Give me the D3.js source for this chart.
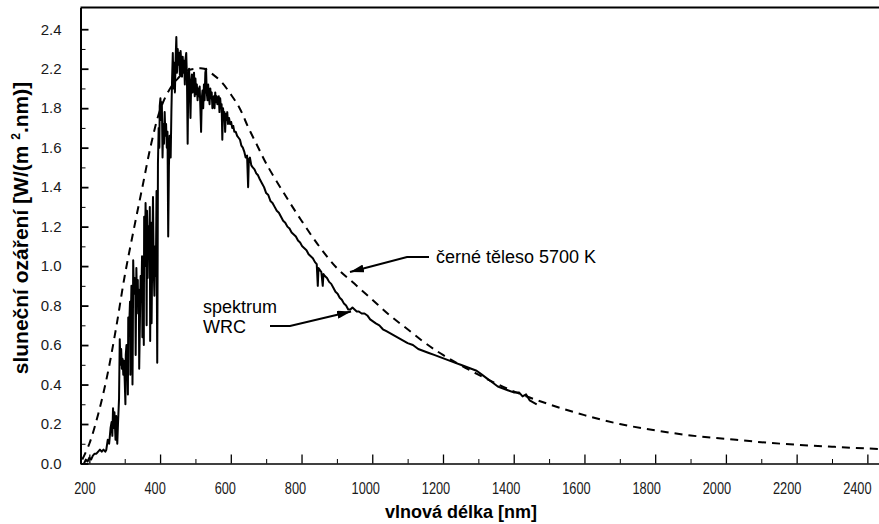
<!DOCTYPE html>
<html>
<head>
<meta charset="utf-8">
<script src="https://cdn.jsdelivr.net/npm/d3@7"></script>
<style>
  body { margin: 0; background: #fff; }
  svg { display: block; }
  text { font-family: "Liberation Sans", Arial, Helvetica, sans-serif; }
</style>
</head>
<body>
<svg id="chart" width="879" height="524"></svg>
<script>
// Measured solar spectrum (WRC) — wavelength [nm] and irradiance [W/(m2.nm)]
const wrcWave = [
  185,190,195,200,205,210,215,220,225,230,235,240,245,248,252,256,260,263,265,267,
  269,271,274,276,279,281,284,286,288,290,292,294,296,298,300,302,303,305,307,309,310,312,
  315,316,317,319,321,322,323,324,326,328,330,331,333,335,337,338,340,341,343,345,347,349,350,352,
  354,355,357,359,361,362,363,365,367,369,371,372,373,375,376,378,380,382,384,386,388,390,391,
  392,393,394,396,398,399,401,403,405,407,409,411,413,415,417,419,421,423,425,427,
  430,432,434,436,438,440,442,444,446,448,450,452,454,456,458,460,462,464,466,468,
  470,472,474,476,478,480,482,484,486,488,490,492,494,496,498,500,502,504,506,508,
  510,512,514,516,518,520,522,524,526,528,530,532,534,536,538,540,542,544,546,548,
  550,552,554,556,558,560,562,564,566,568,570,572,574,576,578,580,582,584,586,588,
  590,592,595,598,601,604,607,610,614,618,622,626,630,634,638,642,646,649,651,654,
  658,662,667,672,677,682,688,694,700,706,712,718,724,730,736,742,748,754,760,766,
  772,778,784,790,796,802,808,814,820,826,832,838,843,846,848,852,856,860,862,866,
  872,878,884,890,896,902,908,914,920,926,932,938,944,950,956,962,970,978,986,994,
  1002,1010,1020,1030,1040,1050,1060,1070,1080,1090,1100,1115,1130,1145,1160,1175,1190,1205,1220,1235,
  1250,1265,1280,1295,1310,1325,1340,1355,1370,1385,1400,1415,1425,1435,1445,1455,1465
];
const wrcIrr = [
  0.00,0.02,0.01,0.03,0.02,0.04,0.05,0.05,0.06,0.07,0.06,0.07,0.06,0.07,0.12,0.10,0.18,0.21,0.14,0.28,
  0.18,0.26,0.12,0.24,0.10,0.20,0.33,0.63,0.50,0.58,0.48,0.53,0.45,0.52,0.42,0.30,0.55,0.60,0.52,0.35,0.74,0.66,
  0.82,0.45,0.70,0.90,0.80,0.40,0.63,1.03,0.86,0.94,0.88,0.55,0.99,0.80,0.93,0.76,0.88,0.48,0.72,0.95,0.82,1.05,0.64,0.90,
  0.60,1.25,1.00,1.32,1.05,0.70,1.28,0.94,1.20,1.10,1.30,0.62,0.90,1.22,0.71,1.08,1.35,0.99,0.85,1.10,0.95,1.38,0.85,
  0.51,0.95,1.52,1.70,1.60,1.81,1.85,1.74,1.83,1.55,1.72,1.62,1.78,1.66,1.72,1.60,1.68,1.15,1.50,1.66,
  1.55,1.78,1.95,2.08,1.90,2.03,1.88,2.05,2.16,1.98,2.10,2.02,2.08,1.97,2.09,2.03,1.96,2.06,1.98,2.04,
  1.92,2.05,2.08,1.95,1.62,1.96,2.00,1.90,1.75,1.93,1.97,1.88,1.94,1.98,1.86,1.95,1.87,1.92,1.84,1.90,
  1.86,1.91,1.80,1.68,1.85,1.89,1.80,1.92,1.84,1.98,2.00,1.88,1.84,1.92,1.86,1.82,1.90,1.85,1.88,1.80,
  1.84,1.86,1.80,1.88,1.83,1.86,1.82,1.84,1.86,1.78,1.85,1.80,1.82,1.64,1.80,1.76,1.78,1.68,1.77,1.74,
  1.78,1.72,1.75,1.72,1.73,1.70,1.71,1.68,1.68,1.66,1.65,1.64,1.61,1.60,1.58,1.55,1.56,1.40,1.54,1.55,
  1.51,1.50,1.49,1.47,1.46,1.44,1.42,1.40,1.37,1.36,1.33,1.32,1.30,1.28,1.27,1.25,1.23,1.22,1.20,1.19,
  1.17,1.16,1.15,1.13,1.12,1.10,1.09,1.08,1.06,1.05,1.04,1.02,1.01,0.90,0.99,0.98,0.97,0.90,0.96,0.95,
  0.94,0.92,0.91,0.89,0.87,0.86,0.84,0.83,0.81,0.80,0.78,0.78,0.79,0.78,0.77,0.77,0.76,0.76,0.75,0.73,
  0.72,0.71,0.70,0.68,0.67,0.66,0.65,0.64,0.63,0.62,0.61,0.60,0.58,0.57,0.56,0.55,0.54,0.53,0.52,0.51,
  0.50,0.49,0.48,0.47,0.45,0.43,0.41,0.39,0.38,0.37,0.36,0.36,0.34,0.35,0.32,0.31,0.30
];

// Black body at 5700 K
const bbWave = [180,200,225,250,275,300,325,350,375,400,425,450,475,500,525,550,575,600,625,650,
  675,700,750,800,850,900,950,1000,1050,1100,1150,1200,1300,1400,1500,1600,1700,1800,1900,2000,
  2100,2200,2300,2400,2500];
const bbIrr = [0.02,0.10,0.25,0.44,0.68,0.95,1.18,1.40,1.62,1.79,1.89,1.95,1.99,2.00,2.00,1.97,1.93,1.87,1.80,1.70,
  1.61,1.52,1.37,1.23,1.10,0.99,0.91,0.83,0.75,0.68,0.61,0.55,0.45,0.365,0.30,0.245,0.20,0.168,0.142,0.125,
  0.108,0.095,0.085,0.076,0.068];

// Axis ticks
const xMinorTicks = d3.range(300, 2500, 200);
const xMajorTicks = [200,400,600,800,1000,1200,1400,1600,1800,2000,2200,2400];
const xTickLabels = ["200","400","600","800","1000","1200","1400","1600","1800","2000","2200","2400"];
const yMinorTicks = [0.1,0.3,0.5,0.7,0.9,1.1,1.3,1.5,1.7,1.9,2.1];
const yMajorTicks = [0,0.2,0.4,0.6,0.8,1.0,1.2,1.4,1.6,1.8,2.0,2.2];
const yTickLabels = ["0.0","0.2","0.4","0.6","0.8","1.0","1.2","1.4","1.6","1.8","2.2","2.4"];

const svg = d3.select("#chart");
const W = 879;

const x = d3.scaleLinear().domain([175, 2500]).range([80.5, 80.5 + 2325 * 0.35365]);
const y = d3.scaleLinear().domain([0, 2.31]).range([463.5, 7.5]);

// Frame top line
svg.append("line")
  .attr("x1", x(175)).attr("x2", W)
  .attr("y1", y(2.31)).attr("y2", y(2.31))
  .attr("stroke", "#000").attr("stroke-width", 2);

// X axis
const gxMinor = svg.append("g").attr("transform", `translate(0,${y(0)})`)
  .call(d3.axisBottom(x).tickValues(xMinorTicks).tickSize(-4.5).tickSizeOuter(0).tickFormat(""));
gxMinor.select(".domain").attr("stroke-width", 1.6);
const gx = svg.append("g").attr("transform", `translate(0,${y(0)})`)
  .call(d3.axisBottom(x).tickValues(xMajorTicks).tickSize(-9).tickSizeOuter(0).tickPadding(19)
    .tickFormat((d, i) => xTickLabels[i]));
gx.select(".domain").remove();
gx.selectAll(".tick line").attr("stroke-width", 1.3);
gx.selectAll(".tick text")
  .attr("font-size", 16).attr("fill", "#1a1a1a")
  .attr("font-family", '"Liberation Sans", Arial, sans-serif')
  .attr("transform", (d, i) => `translate(${-5 - i * 0.5},0) scale(0.8,1)`);

// Y axis
const gyMinor = svg.append("g").attr("transform", `translate(${x(175)},0)`)
  .call(d3.axisLeft(y).tickValues(yMinorTicks).tickSize(-5).tickSizeOuter(0).tickFormat(""));
gyMinor.select(".domain").attr("stroke-width", 2);
const gy = svg.append("g").attr("transform", `translate(${x(175)},0)`)
  .call(d3.axisLeft(y).tickValues(yMajorTicks).tickSize(-8).tickSizeOuter(0).tickPadding(19)
    .tickFormat((d, i) => yTickLabels[i]));
gy.select(".domain").remove();
gy.selectAll(".tick line").attr("stroke-width", 1.8);
gy.selectAll(".tick text")
  .attr("font-size", 15).attr("fill", "#1a1a1a")
  .attr("font-family", '"Liberation Sans", Arial, sans-serif');

// Axis titles
svg.append("text")
  .attr("x", 461).attr("y", 518)
  .attr("text-anchor", "middle")
  .attr("font-size", 18).attr("font-weight", "bold")
  .text("vlnová délka [nm]");

const yTitle = svg.append("text")
  .attr("transform", "translate(28,228) rotate(-90)")
  .attr("text-anchor", "middle")
  .attr("font-size", 21).attr("font-weight", "bold");
yTitle.append("tspan").text("sluneční ozáření [W/(m ");
yTitle.append("tspan").attr("font-size", 12).attr("dy", -8).text("2");
yTitle.append("tspan").attr("dy", 8).text(".nm)]");

// Curves
const bbData = bbWave.map((w, i) => [w, bbIrr[i]]);
const wrcData = wrcWave.map((w, i) => [w, wrcIrr[i]]);

svg.append("path")
  .datum(bbData)
  .attr("fill", "none")
  .attr("stroke", "#000")
  .attr("stroke-width", 2)
  .attr("stroke-dasharray", "8,6")
  .attr("d", d3.line().x(d => x(d[0])).y(d => y(d[1])).curve(d3.curveCatmullRom));

svg.append("path")
  .datum(wrcData)
  .attr("fill", "none")
  .attr("stroke", "#000")
  .attr("stroke-width", 2)
  .attr("stroke-linejoin", "round")
  .attr("d", d3.line().x(d => x(d[0])).y(d => y(d[1])));

// Annotations
const defs = svg.append("defs");
defs.append("marker")
  .attr("id", "arrow")
  .attr("viewBox", "0 0 14 8")
  .attr("refX", 14).attr("refY", 4)
  .attr("markerWidth", 14).attr("markerHeight", 8)
  .attr("markerUnits", "userSpaceOnUse")
  .attr("orient", "auto")
  .append("path").attr("d", "M0,0L14,4L0,8Z").attr("fill", "#000");

const bbTip = [x(937), y(0.97)];
svg.append("path")
  .attr("fill", "none").attr("stroke", "#000").attr("stroke-width", 2)
  .attr("marker-end", "url(#arrow)")
  .attr("d", `M429,257H407L${bbTip[0]},${bbTip[1]}`);
svg.append("text")
  .attr("x", 436).attr("y", 263)
  .attr("font-size", 18)
  .text("černé těleso 5700 K");

const wrcTip = [x(940), y(0.77)];
svg.append("path")
  .attr("fill", "none").attr("stroke", "#000").attr("stroke-width", 2)
  .attr("marker-end", "url(#arrow)")
  .attr("d", `M270,326H290L${wrcTip[0]},${wrcTip[1]}`);
svg.append("text")
  .attr("x", 203).attr("y", 313)
  .attr("font-size", 18)
  .text("spektrum");
svg.append("text")
  .attr("x", 203).attr("y", 333)
  .attr("font-size", 18)
  .text("WRC");
</script>
</body>
</html>
